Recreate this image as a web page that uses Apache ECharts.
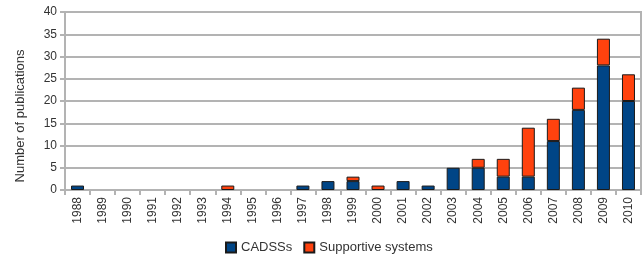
<!DOCTYPE html>
<html>
<head>
<meta charset="utf-8">
<script src="https://cdn.jsdelivr.net/npm/echarts@6/dist/echarts.min.js"></script>
<style>
  html, body { margin: 0; padding: 0; background: #fff; }
  #chart { width: 643px; height: 254px; }
</style>
</head>
<body>
<div id="chart"></div>
<script>
// years on the x axis
var years = ["1988", "1989", "1990", "1991", "1992", "1993", "1994", "1995",
  "1996", "1997", "1998", "1999", "2000", "2001", "2002", "2003", "2004",
  "2005", "2006", "2007", "2008", "2009", "2010"];
var cadss = [1, 0, 0, 0, 0, 0, 0, 0, 0, 1, 2, 2, 0, 2, 1, 5, 5, 3, 3, 11, 18, 28, 20];
var supportive = [0, 0, 0, 0, 0, 0, 1, 0, 0, 0, 0, 1, 1, 0, 0, 0, 2, 4, 11, 5, 5, 6, 6];

var chart = echarts.init(document.getElementById("chart"));
var font = "Liberation Sans, DejaVu Sans, sans-serif";

function nz(arr) {
  return arr.map(function (v) { return v === 0 ? null : v; });
}

var option = {
  animation: false,
  textStyle: { fontFamily: font },
  grid: {
    left: 65, right: 2, top: 12, bottom: 64,
    show: true, borderColor: "#b3b3b3", borderWidth: 2
  },
  legend: {
    top: 236,
    left: 220,
    icon: "rect",
    itemWidth: 10,
    itemHeight: 10,
    itemGap: 11,
    textStyle: { fontSize: 13, color: "#333", fontFamily: font },
    data: ["CADSSs", "Supportive systems"]
  },
  xAxis: {
    type: "category",
    data: years,
    axisLine: { lineStyle: { color: "#b3b3b3", width: 2 } },
    axisTick: { show: true, length: 5, lineStyle: { color: "#b3b3b3", width: 2 } },
    axisLabel: { rotate: 90, fontSize: 12, color: "#333", margin: 7 },
    splitLine: { show: false }
  },
  yAxis: {
    type: "value",
    min: 0,
    max: 40,
    interval: 5,
    name: "Number of publications",
    nameLocation: "middle",
    nameGap: 38,
    nameTextStyle: { fontSize: 13, color: "#333", padding: [0, 30, 0, 0] },
    axisLine: { show: true, lineStyle: { color: "#b3b3b3", width: 2 } },
    axisTick: { show: true, length: 5, lineStyle: { color: "#b3b3b3", width: 2 } },
    axisLabel: { fontSize: 12, color: "#333", margin: 8 },
    splitLine: { lineStyle: { color: "#b3b3b3", width: 2 } }
  },
  series: [
    {
      name: "CADSSs",
      type: "bar",
      stack: "total",
      barWidth: 13,
      data: nz(cadss),
      itemStyle: { color: "#004586", borderColor: "#1a1a1a", borderWidth: 1 }
    },
    {
      name: "Supportive systems",
      type: "bar",
      stack: "total",
      barWidth: 13,
      data: nz(supportive),
      itemStyle: { color: "#ff420e", borderColor: "#1a1a1a", borderWidth: 1 }
    }
  ]
};

chart.setOption(option);
</script>
</body>
</html>
